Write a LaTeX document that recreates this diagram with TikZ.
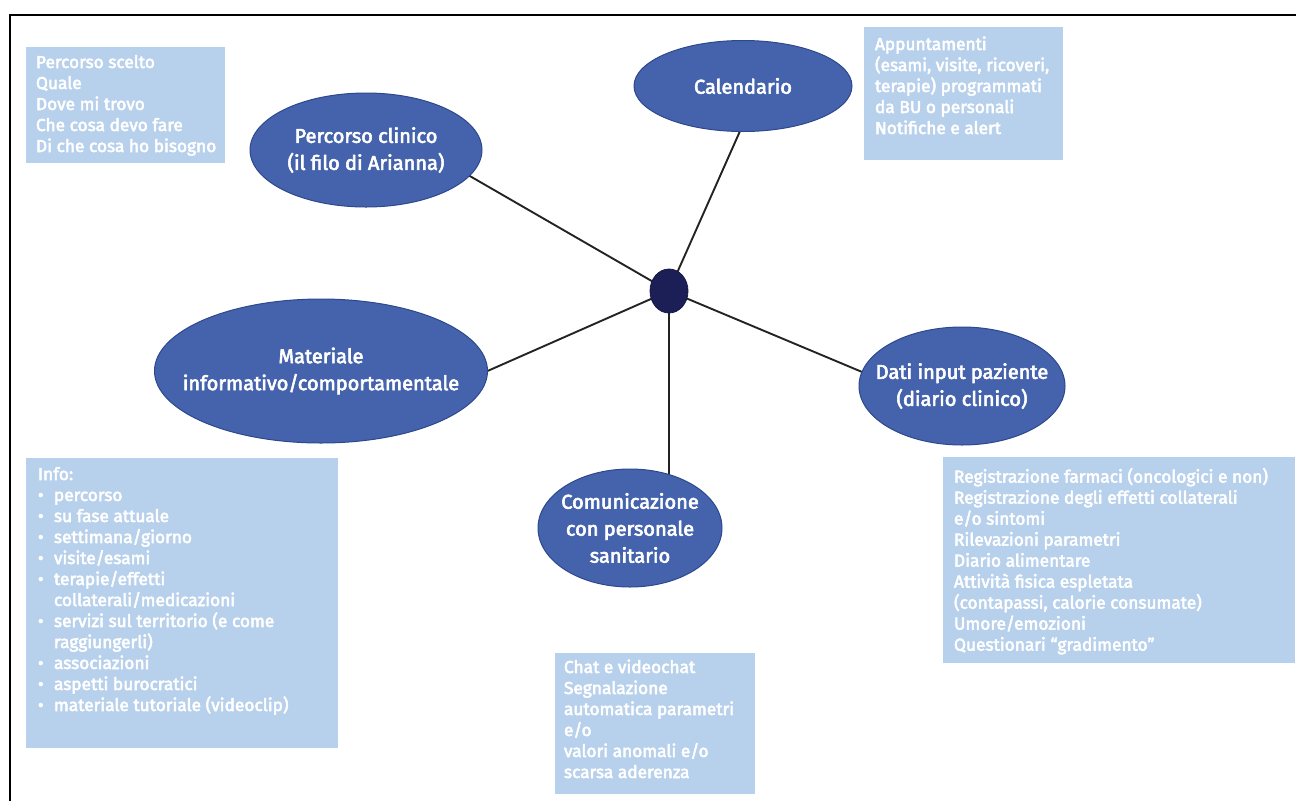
\documentclass[tikz,border=0pt]{standalone}
\usepackage{fontspec}
\setmainfont{Fira Sans}[FakeBold=3]
\usetikzlibrary{shapes.geometric,backgrounds,calc}

\definecolor{ellfill}{RGB}{68,99,172}
\definecolor{ellborder}{RGB}{45,72,140}
\definecolor{boxfill}{RGB}{183,208,235}
\definecolor{hubfill}{RGB}{28,30,86}
\definecolor{spokecol}{RGB}{35,35,35}

\newcommand\boxfont{\fontsize{17.3}{21}\selectfont}
\newcommand\ellfont{\fontsize{20}{27}\selectfont}
\newcommand\firststrut{\rule{0pt}{14pt}}
\newcommand\dotitem{\makebox[16pt][l]{\textbullet}}
\newcommand\contline{\makebox[16pt][l]{}}

\tikzset{
  topic/.style={ellipse, draw=ellborder, fill=ellfill, line width=1pt, inner sep=0pt, outer sep=0pt},
  ellabel/.style={text=white, font=\ellfont, align=center, inner sep=0pt},
  hubnode/.style={ellipse, draw=hubfill!80!black, fill=hubfill, line width=0.8pt, inner sep=0pt,
    minimum width=38pt, minimum height=44pt},
  notebox/.style={rectangle, fill=boxfill, inner sep=0pt, outer sep=0pt, anchor=north west},
  notetext/.style={text=white, font=\boxfont, align=left, inner sep=0pt, outer sep=0pt, anchor=north west},
  spoke/.style={draw=spokecol, line width=1.9pt},
}

\begin{document}
\begin{tikzpicture}[x=1pt, y=-1pt]
\useasboundingbox (0,0) rectangle (1296,801);

% frame
\draw[line width=2pt] (10,801) -- (10,15) -- (1296,15);

% hub and topics
\node[hubnode] (hub) at (669,291) {};
\node[topic, minimum width=232pt, minimum height=114pt,
  label={[ellabel]center:{Percorso clinico\\(il filo di Arianna)}}] (perc) at (366,150) {};
\node[topic, minimum width=218pt, minimum height=91pt,
  label={[ellabel]center:{Calendario}}] (cal) at (743,86) {};
\node[topic, minimum width=333pt, minimum height=144pt,
  label={[ellabel]center:{Materiale\\informativo/comportamentale}}] (mat) at (321,371) {};
\node[topic, minimum width=184pt, minimum height=118pt,
  label={[ellabel]center:{Comunicazione\\con personale\\sanitario}}] (com) at (630,528) {};
\node[topic, minimum width=206pt, minimum height=118pt,
  label={[ellabel]center:{Dati input paziente\\(diario clinico)}}] (dati) at (962,386) {};

% spokes
\begin{scope}[on background layer]
  \draw[spoke] (hub.center) -- (perc.-14);
  \draw[spoke] (hub.center) -- (cal.-94);
  \draw[spoke] (hub.center) -- (mat.east);
  \draw[spoke] (hub.center) -- (hub.center |- com.center);
  \draw[spoke] (hub.center) -- (dati.172);
\end{scope}

% note boxes
\node[notebox, minimum width=199pt, minimum height=116pt] (npath) at (26,47) {};
\node[notetext] (tpath) at ($(npath.north west)+(10,7)$) {\firststrut Percorso scelto\\Quale\\Dove mi trovo\\Che cosa devo fare\\Di che cosa ho bisogno};

\node[notebox, minimum width=199pt, minimum height=133pt] (ncal) at (864,27) {};
\node[notetext] (tcal) at ($(ncal.north west)+(11,9)$) {\firststrut Appuntamenti\\(esami, visite, ricoveri,\\terapie) programmati\\da BU o personali\\Notifiche e alert};

\node[notebox, minimum width=312pt, minimum height=290pt] (ninfo) at (26,458) {};
\node[notetext] (tinfo) at ($(ninfo.north west)+(12,8)$) {\firststrut Info:\\
\dotitem percorso\\
\dotitem su fase attuale\\
\dotitem settimana/giorno\\
\dotitem visite/esami\\
\dotitem terapie/effetti\\
\contline collaterali/medicazioni\\
\dotitem servizi sul territorio (e come\\
\contline raggiungerli)\\
\dotitem associazioni\\
\dotitem aspetti burocratici\\
\dotitem materiale tutoriale (videoclip)};

\node[notebox, minimum width=352pt, minimum height=206pt] (ndati) at (943,457) {};
\node[notetext] (tdati) at ($(ndati.north west)+(11,11)$) {\firststrut Registrazione farmaci (oncologici e non)\\
Registrazione degli effetti collaterali\\
e/o sintomi\\
Rilevazioni parametri\\
Diario alimentare\\
Attività fisica espletata\\
(contapassi, calorie consumate)\\
Umore/emozioni\\
Questionari “gradimento”};

\node[notebox, minimum width=200pt, minimum height=141pt] (nchat) at (555,653) {};
\node[notetext] (tchat) at ($(nchat.north west)+(9,6)$) {\firststrut Chat e videochat\\
Segnalazione\\
automatica parametri\\
e/o\\
valori anomali e/o\\
scarsa aderenza};

\end{tikzpicture}
\end{document}
